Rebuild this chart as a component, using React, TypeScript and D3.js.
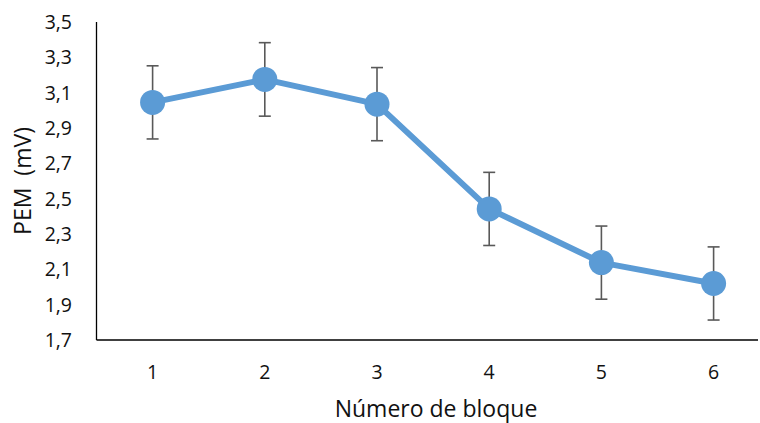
import * as d3 from "d3";

// datos
const bloques = ["1", "2", "3", "4", "5", "6"];
const pemMedia = [3.045, 3.175, 3.035, 2.442, 2.138, 2.02];
const pemError = [0.207, 0.208, 0.207, 0.207, 0.207, 0.207];
const yTicks = [1.7, 1.9, 2.1, 2.3, 2.5, 2.7, 2.9, 3.1, 3.3, 3.5];

const W = 760;
const H = 423;
const FONT = "'Open Sans', 'Noto Sans', sans-serif";
const AZUL = "#5B9BD5";

const App = () => {
  const x = d3.scaleBand<string>().domain(bloques).range([96.5, 769.7]).padding(0);
  const y = d3.scaleLinear().domain([1.7, 3.5]).range([340, 22]);
  const cx = (i: number) => (x(bloques[i]) as number) + x.bandwidth() / 2;

  const linea = d3
    .line<number>()
    .x((_, i) => cx(i))
    .y((d) => y(d));

  const fmt = (v: number) => v.toFixed(1).replace(".", ",");
  const capo = 6;

  return (
    <svg
      width={W}
      height={H}
      style={{ position: "absolute", left: 0, top: 0, background: "#fff" }}
      fontFamily={FONT}
    >
      {/* ejes */}
      <line x1={96.5} x2={96.5} y1={22} y2={340} stroke="#000" strokeWidth={1.3} />
      <line x1={96.5} x2={758} y1={340} y2={340} stroke="#000" strokeWidth={1.3} />

      {yTicks.map((t) => (
        <text key={t} x={72} y={y(t)} dy="0.36em" textAnchor="end" fontSize={19.5} fill="#111">
          {fmt(t)}
        </text>
      ))}
      {bloques.map((b, i) => (
        <text key={b} x={cx(i)} y={379} textAnchor="middle" fontSize={19.5} fill="#111">
          {b}
        </text>
      ))}

      {/* barras de error */}
      {pemMedia.map((m, i) => {
        const top = y(m + pemError[i]);
        const bot = y(m - pemError[i]);
        return (
          <g key={i} stroke="#595959" strokeWidth={1.6}>
            <line x1={cx(i)} x2={cx(i)} y1={top} y2={bot} />
            <line x1={cx(i) - capo} x2={cx(i) + capo} y1={top} y2={top} />
            <line x1={cx(i) - capo} x2={cx(i) + capo} y1={bot} y2={bot} />
          </g>
        );
      })}

      <path d={linea(pemMedia) || ""} fill="none" stroke={AZUL} strokeWidth={6} strokeLinejoin="round" />
      {pemMedia.map((m, i) => (
        <circle key={i} cx={cx(i)} cy={y(m)} r={12.5} fill={AZUL} />
      ))}

      {/* títulos */}
      <text x={436} y={417} textAnchor="middle" fontSize={23} fill="#111">
        Número de bloque
      </text>
      <text
        transform="translate(31,181) rotate(-90)"
        textAnchor="middle"
        fontSize={23}
        fill="#111"
        style={{ whiteSpace: "pre" }}
      >
        {"PEM  (mV)"}
      </text>
    </svg>
  );
};

export default App;
